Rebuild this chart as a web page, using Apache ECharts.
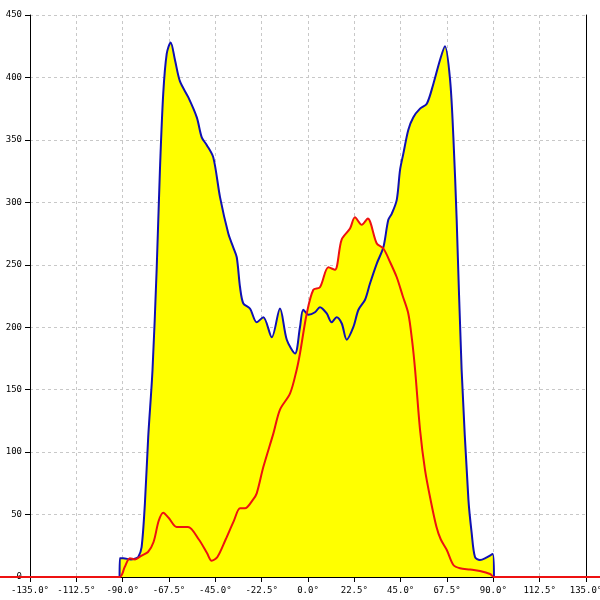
<!DOCTYPE html>
<html>
<head>
<meta charset="utf-8">
<script src="https://cdn.jsdelivr.net/npm/echarts@6/dist/echarts.min.js"></script>
<style>html,body{margin:0;padding:0;background:#fff}#c{width:600px;height:600px}</style>
</head>
<body>
<div id="c"></div>
<script>
// x tick settings
const xMin = -135, xMax = 135, xStep = 22.5;
const yMin = 0, yMax = 450, yStep = 50;

// blue curve: [angle deg, value]
const blueData = [
  [-91.5,0],[-91.4,15],[-89.7,15],[-86,14],[-83.5,15],[-82.4,16],[-80.8,24],[-79.2,59],[-77.6,112],
  [-75.5,166],[-73.5,246],[-71.9,326],[-70.3,387],[-68.6,419],[-66.7,428],[-64.6,414],[-62.2,397],
  [-58.1,384],[-54,368],[-51.6,352],[-49.2,346],[-46,336],[-42.7,304],[-38.7,275],[-36.3,264],
  [-34.6,256],[-33,232],[-31.4,219],[-28.2,215],[-24.9,204],[-21.7,208],[-17.6,192],[-13.6,215],
  [-10.3,190],[-6.3,179],[-3.9,200],[-2.3,214],[0.2,210],[3.4,212],[5.8,216],[9.1,211],[11.5,204],
  [13.9,208],[16.4,203],[18.8,190],[22,200],[24.5,214],[27.7,222],[30.1,235],[33.4,251],[36.6,264],
  [39,286],[40.7,291],[43.1,302],[44.7,326],[46.3,339],[48.7,358],[51.1,368],[54.4,375],[57.7,379],
  [60.9,395],[64.1,414],[66.5,425],[69,398],[70.6,352],[72.2,286],[74.6,166],[77.9,62],[79.5,35],
  [81.1,16],[83.5,13.6],[86.8,15.7],[89.7,18.4],[90.3,0]
];

// red curve: [angle deg, value]
const redData = [
  [-150,0],[-91.6,0],[-89,8],[-86.5,15],[-84,14],[-81,17],[-77.7,20],[-75,28],[-72.5,45],[-70.3,51.5],
  [-67.5,47],[-63.8,40],[-58.3,40],[-53,30],[-49,19],[-46.8,13],[-44,16],[-40,30],[-36,45],[-33,55],
  [-30.6,55],[-26.7,62],[-24.9,67],[-21.7,88],[-16.8,115],[-13.6,134],[-8.7,147],[-5.5,166],[-3.9,179],
  [-0.6,211],[2.6,230],[5.8,232],[9.9,248],[13.1,246],[16.3,270],[20.4,279],[22.8,288],[26.1,282],
  [29,287],[33.4,267],[36.6,263],[39.9,252],[43.1,240],[46,225],[48.7,211],[50.5,190],[52,166],
  [54.4,118],[56.8,86],[59.5,62],[62.4,40],[64.5,30],[67.4,21.6],[70.6,9.6],[73.8,7],[78.7,6],
  [83.5,4.8],[88.4,2.4],[90.3,0],[150,0]
];

const W = 600, gl = 30, gr = 14, gt = 15, gb = 23;
// full-width overlay axis with the same scale, so the red line runs to the page edges
const pxPerDeg = (W - gl - gr) / (xMax - xMin);
const fullMin = xMin - gl / pxPerDeg, fullMax = xMax + gr / pxPerDeg;

const font = 'DejaVu Sans Mono';
const chart = echarts.init(document.getElementById('c'));
const sm = {smooth:0.3, showSymbol:false};
const areaCommon = Object.assign({type:'line', lineStyle:{width:0},
  areaStyle:{color:'#ffff00', opacity:1}, silent:true, xAxisIndex:0, yAxisIndex:0}, sm);
const dash = {color:'#c8c8c8', type:[3,3]};
chart.setOption({
  animation:false,
  grid:[
    {left:gl, right:gr, top:gt, bottom:gb, outerBoundsMode:'none', containLabel:false},
    {left:0, right:0, top:gt, bottom:gb, outerBoundsMode:'none', containLabel:false}
  ],
  xAxis:[{type:'value', gridIndex:0, min:xMin, max:xMax, interval:xStep,
    axisLine:{show:true, onZero:false, lineStyle:{color:'#000', width:1}},
    axisTick:{show:true, length:5, lineStyle:{color:'#000'}},
    axisLabel:{fontFamily:font, fontSize:9, color:'#000', margin:9,
      formatter: v => v.toFixed(1) + '°'},
    splitLine:{show:true, lineStyle:dash}
  },{type:'value', gridIndex:1, min:fullMin, max:fullMax, show:false}],
  yAxis:[{type:'value', gridIndex:0, min:yMin, max:yMax, interval:yStep,
    axisLine:{show:true, onZero:false, lineStyle:{color:'#000', width:1}},
    axisTick:{show:true, length:5, lineStyle:{color:'#000'}},
    axisLabel:{fontFamily:font, fontSize:9, color:'#000', margin:8},
    splitLine:{show:true, lineStyle:dash}
  },{type:'value', gridIndex:0, min:yMin, max:yMax, interval:yStep, position:'right',
    axisLine:{show:true, onZero:false, lineStyle:{color:'#000', width:1}},
    axisTick:{show:false}, axisLabel:{show:false}, splitLine:{show:false}
  },{type:'value', gridIndex:1, min:yMin, max:yMax, show:false}],
  series:[
    Object.assign({data:blueData, z:1}, areaCommon),
    Object.assign({data:redData, z:1}, areaCommon),
    Object.assign({type:'line', data:blueData, z:3, xAxisIndex:0, yAxisIndex:0,
      lineStyle:{color:'#1010b4', width:2}}, sm),
    Object.assign({type:'line', data:redData, z:4, xAxisIndex:1, yAxisIndex:2,
      lineStyle:{color:'#ee1111', width:2}}, sm)
  ]
});
</script>
</body>
</html>
